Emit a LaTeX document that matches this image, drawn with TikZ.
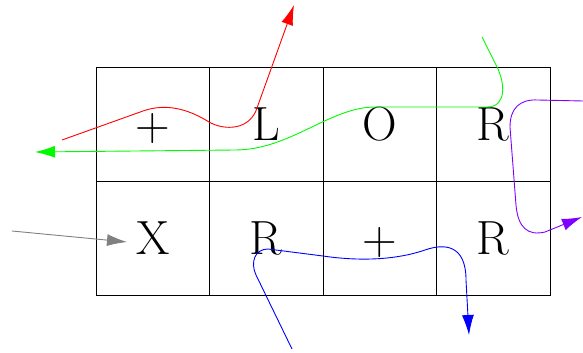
\documentclass[tikz,border=0pt]{standalone}
\usetikzlibrary{arrows.meta}
\definecolor{myviolet}{RGB}{127,0,255}
\definecolor{mygreen}{RGB}{0,250,0}
\tikzset{
  cell/.style={draw=black, line width=1pt, minimum width=113.5pt, minimum height=114pt,
    inner sep=0pt, text height=33pt, text depth=0pt, font=\fontsize{48}{50}\selectfont},
  path/.style={line width=0.9pt},
  tip/.style={-{Latex[length=20pt,width=12pt]}}
}
\begin{document}
\begin{tikzpicture}[x=1pt,y=-1pt]
\useasboundingbox (0,0) rectangle (583,353);
% cells
\node[cell] (a1) at (152.75,124) {+};
\node[cell] (a2) at (266.25,124) {L};
\node[cell] (a3) at (379.75,124) {O};
\node[cell] (a4) at (493.25,124) {R};
\node[cell] (b1) at (152.75,238) {X};
\node[cell] (b2) at (266.25,238) {R};
\node[cell] (b3) at (379.75,238) {+};
\node[cell] (b4) at (493.25,238) {R};
% free ends
\coordinate (rs) at (62,140);
\coordinate (re) at (294,5);
\coordinate (gs) at (482,37);
\coordinate (ge) at (35,152);
\coordinate (ps) at (583,101);
\coordinate (pe) at (582,217);
\coordinate (bs) at (292,349);
\coordinate (be) at (469,335);
\coordinate (ks) at (12,231);
\coordinate (ke) at (127,242);
% red
\draw[path, red, tip] (rs) -- (143,111) .. controls (160,105) and (182,105) .. (209,122)
  .. controls (225,131) and (250,130) .. (257,108) -- (re);
% green
\draw[path, mygreen, tip] (gs) -- (497,67) .. controls (505,83) and (507,107) .. (487,107)
  -- (375,107) .. controls (330,107) and (290,150) .. (235,150) -- (ge);
% purple
\draw[path, myviolet, tip] (ps) -- (538,100) .. controls (520,99) and (510,108) .. (510,127)
  -- (516,205) .. controls (518,228) and (528,236) .. (545,232) -- (pe);
% blue
\draw[path, blue, tip] (bs) -- (256,275) .. controls (250,262) and (255,249) .. (268,249)
  -- (323,256) .. controls (350,260) and (390,262) .. (425,250)
  .. controls (445,243) and (466,245) .. (466,280) -- (be);
% gray
\draw[path, gray, tip] (ks) -- (ke);
\end{tikzpicture}
\end{document}
